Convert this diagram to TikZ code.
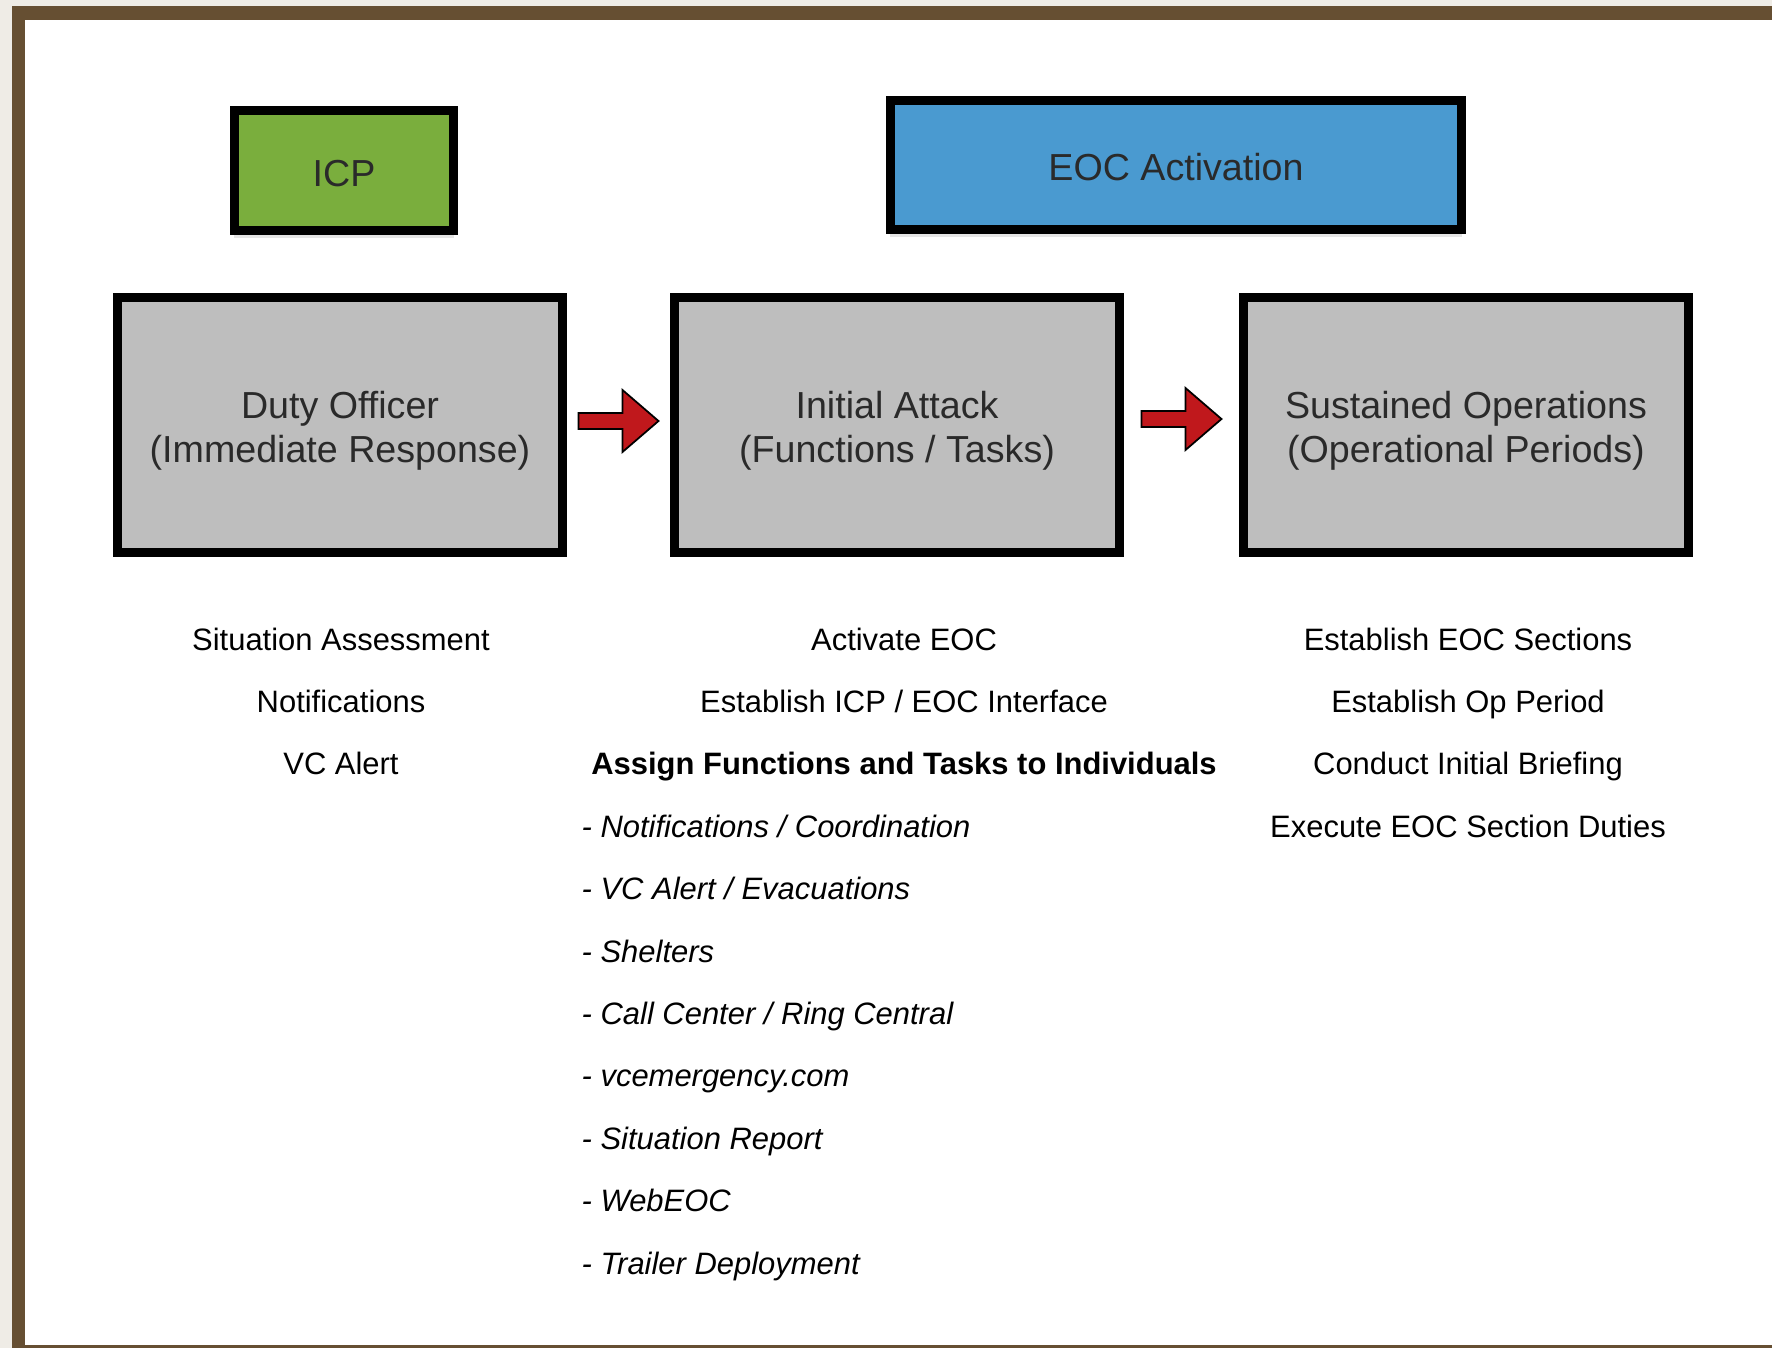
\documentclass[tikz,border=0pt]{standalone}
\usepackage{fontspec}
\setmainfont{Liberation Sans}
\usetikzlibrary{calc,shadows}
\definecolor{framebrown}{HTML}{664F32}
\definecolor{outerbg}{HTML}{EFECE6}
\definecolor{icpgreen}{HTML}{7AAE3D}
\definecolor{eocblue}{HTML}{4A9AD0}
\definecolor{boxgray}{HTML}{BEBEBE}
\definecolor{arrowred}{HTML}{C0181C}
\definecolor{boxtext}{HTML}{2A2A2A}
\begin{document}
\begin{tikzpicture}[x=0.01cm,y=-0.01cm,
  topbox/.style={draw=black,line width=2.56pt,inner sep=0pt,
    drop shadow={opacity=0.2,shadow xshift=0pt,shadow yshift=-2pt}},
  stagebox/.style={draw=black,line width=2.56pt,fill=boxgray,inner sep=0pt,
    minimum width=4.45cm,minimum height=2.54cm},
  boxlabel/.style={align=center,inner sep=0pt,
    font=\fontsize{10.7}{12.5}\selectfont,text=boxtext},
  redarrow/.style={fill=arrowred,draw=black,line width=0.5pt,line join=miter},
  listtext/.style={anchor=base,inner sep=0pt,font=\fontsize{8.8}{10}\selectfont},
  itemtext/.style={anchor=base west,inner sep=0pt,font=\fontsize{8.8}{10}\selectfont\itshape}]
\useasboundingbox (0,0) rectangle (1772,1348);
% background frame
\fill[outerbg] (0,0) rectangle (1772,1348);
\fill[framebrown] (12,6) rectangle (1772,1348);
\fill[white] (25,20) rectangle (1772,1345);
% top boxes
\node[topbox,fill=icpgreen,minimum width=2.19cm,minimum height=1.20cm,
  label={[boxlabel,yshift=-0.85pt]center:ICP}] (icp) at (344,170.5) {};
\node[topbox,fill=eocblue,minimum width=5.71cm,minimum height=1.29cm,
  label={[boxlabel,yshift=-0.6pt]center:EOC Activation}] (eoc) at (1176,165) {};
% stage boxes
\node[stagebox,label={[boxlabel,yshift=-1.7pt]center:{Duty Officer\\(Immediate Response)}}] (duty) at (340,425) {};
\node[stagebox,label={[boxlabel,yshift=-1.7pt]center:{Initial Attack\\(Functions / Tasks)}}] (initial) at (897,425) {};
\node[stagebox,label={[boxlabel,yshift=-1.7pt]center:{Sustained Operations\\(Operational Periods)}}] (sustained) at (1466,425) {};
% arrows
\coordinate (m1) at ($(duty.east)!0.5!(initial.west)+(0,-4)$);
\coordinate (m2) at ($(initial.east)!0.5!(sustained.west)+(0,-6)$);
\foreach \m in {m1,m2}{
  \draw[redarrow] ($(\m)+(-40,-8)$) -- ($(\m)+(4,-8)$) -- ($(\m)+(4,-31)$) -- ($(\m)+(40,0)$)
    -- ($(\m)+(4,31)$) -- ($(\m)+(4,8)$) -- ($(\m)+(-40,8)$) -- cycle;
}
% left column
\node[listtext] (l1) at (341,650) {Situation Assessment};
\node[listtext] (l2) at (341,712.4) {Notifications};
\node[listtext] (l3) at (341,774.8) {VC Alert};
% middle column
\node[listtext] (c1) at (904,650) {Activate EOC};
\node[listtext] (c2) at (904,712.4) {Establish ICP / EOC Interface};
\node[listtext,font=\fontsize{8.8}{10}\selectfont\bfseries] (c3) at (904,774.8) {Assign Functions and Tasks to Individuals};
\node[itemtext] (i1) at (581,837.2) {- Notifications / Coordination};
\node[itemtext] (i2) at (581,899.6) {- VC Alert / Evacuations};
\node[itemtext] (i3) at (581,962) {- Shelters};
\node[itemtext] (i4) at (581,1024.4) {- Call Center / Ring Central};
\node[itemtext] (i5) at (581,1086.8) {- vcemergency.com};
\node[itemtext] (i6) at (581,1149.2) {- Situation Report};
\node[itemtext] (i7) at (581,1211.6) {- WebEOC};
\node[itemtext] (i8) at (581,1274) {- Trailer Deployment};
% right column
\node[listtext] (r1) at (1468,650) {Establish EOC Sections};
\node[listtext] (r2) at (1468,712.4) {Establish Op Period};
\node[listtext] (r3) at (1468,774.8) {Conduct Initial Briefing};
\node[listtext] (r4) at (1468,837.2) {Execute EOC Section Duties};
\end{tikzpicture}
\end{document}
